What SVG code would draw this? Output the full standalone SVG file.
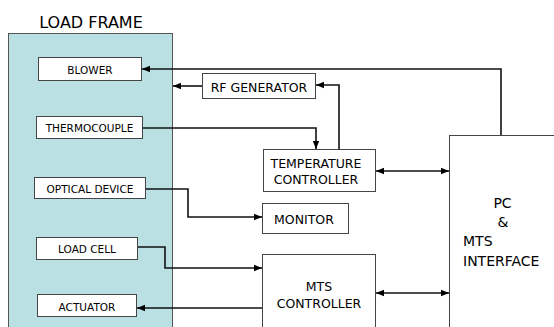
<svg xmlns="http://www.w3.org/2000/svg" width="554" height="327" viewBox="0 0 554 327">
<defs>
<style>
.box{fill:#fff;stroke:#444;stroke-width:1}
.frame{fill:#bbe0e3;stroke:#555;stroke-width:1}
.t{font-family:"DejaVu Sans",Verdana,sans-serif;fill:#000}
.s{font-size:10.5px;text-anchor:middle}
.m{font-size:12.5px;text-anchor:middle}
.l{font-size:14px}
.c{fill:none;stroke:#111;stroke-width:1.6}
</style>
<marker id="ah" markerUnits="userSpaceOnUse" markerWidth="8" markerHeight="8" viewBox="0 0 8 8" refX="8" refY="4" orient="auto-start-reverse">
<path d="M0,0.8 L8,4 L0,7.2 Z" fill="#000"/>
</marker>
</defs>
<rect width="554" height="327" fill="#fff"/>
<g id="load-frame">
<rect class="frame" x="8.5" y="33.5" width="164" height="300"/>
<text class="t" x="91" y="28" font-size="16" text-anchor="middle">LOAD FRAME</text>
</g>
<g id="blower"><rect class="box" x="38.5" y="57.5" width="103" height="23"/><text class="t s" x="90" y="74">BLOWER</text></g>
<g id="thermocouple"><rect class="box" x="36.5" y="116.5" width="106" height="22"/><text class="t s" x="89.5" y="132">THERMOCOUPLE</text></g>
<g id="optical-device"><rect class="box" x="34.5" y="177.5" width="111" height="21"/><text class="t s" x="90" y="193">OPTICAL DEVICE</text></g>
<g id="load-cell"><rect class="box" x="36.5" y="237.5" width="101" height="22"/><text class="t s" x="87" y="253">LOAD CELL</text></g>
<g id="actuator"><rect class="box" x="37.5" y="294.5" width="99" height="22"/><text class="t s" x="87" y="311">ACTUATOR</text></g>
<g id="rf-generator"><rect class="box" x="202.5" y="73.5" width="113" height="25"/><text class="t m" x="259" y="92">RF GENERATOR</text></g>
<g id="temperature-controller"><rect class="box" x="263.5" y="149.5" width="112" height="42"/><text class="t m" x="316" y="168">TEMPERATURE</text><text class="t m" x="316" y="184">CONTROLLER</text></g>
<g id="monitor"><rect class="box" x="262.5" y="203.5" width="86" height="30"/><text class="t m" x="304" y="224">MONITOR</text></g>
<g id="mts-controller"><rect class="box" x="262.5" y="254.5" width="113" height="80"/><text class="t m" x="319" y="291">MTS</text><text class="t m" x="319" y="308">CONTROLLER</text></g>
<g id="pc-mts-interface"><rect class="box" x="449.5" y="135.5" width="120" height="200"/>
<text class="t l" x="502.5" y="208" text-anchor="middle">PC</text>
<text class="t l" x="503" y="227" text-anchor="middle">&amp;</text>
<text class="t l" x="463" y="246">MTS</text>
<text class="t l" x="463" y="266">INTERFACE</text></g>
<g id="connectors">
<path class="c" d="M501,135 V69 H142" marker-end="url(#ah)"/>
<path class="c" d="M202,86 H173" marker-end="url(#ah)"/>
<path class="c" d="M339,149 V85 H316" marker-end="url(#ah)"/>
<path class="c" d="M143,128 H316 V149" marker-end="url(#ah)"/>
<path class="c" d="M376,171 H449" marker-start="url(#ah)" marker-end="url(#ah)"/>
<path class="c" d="M146,189 H188 V217 H262" marker-end="url(#ah)"/>
<path class="c" d="M138,247 H165 V268 H262" marker-end="url(#ah)"/>
<path class="c" d="M262,308 H137" marker-end="url(#ah)"/>
<path class="c" d="M376,293 H449" marker-start="url(#ah)" marker-end="url(#ah)"/>
</g>
</svg>
